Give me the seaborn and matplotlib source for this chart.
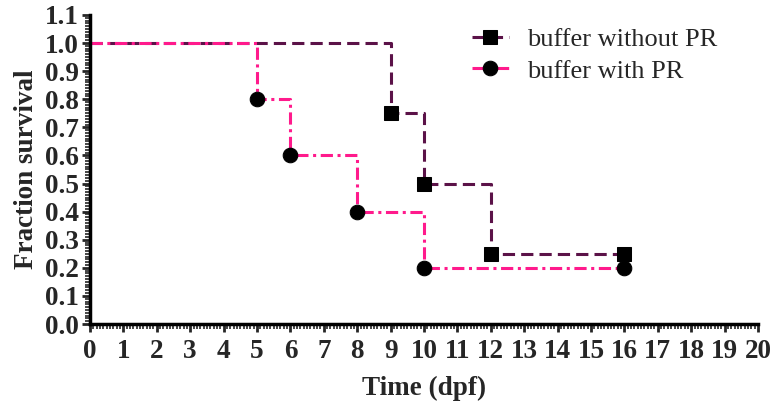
import seaborn as sns
import matplotlib.pyplot as plt
from matplotlib.ticker import MultipleLocator

# survival data (Kaplan-Meier style steps)
time_without = [0, 9, 10, 12, 16]
surv_without = [1.0, 0.75, 0.5, 0.25, 0.25]
time_with = [0, 5, 6, 8, 10, 16]
surv_with = [1.0, 0.8, 0.6, 0.4, 0.2, 0.2]
labels = ["buffer without PR", "buffer with PR"]

sns.set_style("ticks")
plt.rcParams["font.family"] = ["Liberation Serif", "DejaVu Serif"]

fig = plt.figure(figsize=(7.73, 4.03), dpi=100)
ax = fig.add_axes([0.1164, 0.196, 0.8642, 0.767])

sns.lineplot(x=time_without, y=surv_without, ax=ax, color="#5b1248",
             drawstyle="steps-post", linestyle=(0, (4, 2)), linewidth=2.2,
             marker="s", markersize=10.5, markerfacecolor="black",
             markeredgecolor="black", markevery=list(range(1, len(time_without))),
             label=labels[0])
sns.lineplot(x=time_with, y=surv_with, ax=ax, color="#ff1a8c",
             drawstyle="steps-post", linestyle=(0, (4, 1.5, 1, 1.5)), linewidth=2.2,
             marker="o", markersize=10.5, markerfacecolor="black",
             markeredgecolor="black", markevery=list(range(1, len(time_with))),
             label=labels[1])

ax.set_xlim(0, 20)
ax.set_ylim(0, 1.1)
ax.xaxis.set_major_locator(MultipleLocator(1))
ax.xaxis.set_minor_locator(MultipleLocator(0.1))
ax.yaxis.set_major_locator(MultipleLocator(0.1))
ax.yaxis.set_minor_locator(MultipleLocator(0.01))
ax.yaxis.set_major_formatter(plt.FormatStrFormatter("%.1f"))

for s in ["top", "right"]:
    ax.spines[s].set_visible(False)
for s in ["left", "bottom"]:
    ax.spines[s].set_linewidth(2.5)
    ax.spines[s].set_color("black")

ax.tick_params(which="major", length=6, width=2, labelsize=19.5)
ax.tick_params(axis="x", which="major", pad=5)
ax.tick_params(axis="y", which="major", pad=2)
ax.tick_params(which="minor", length=3.5, width=1.2)
for lab in ax.get_xticklabels() + ax.get_yticklabels():
    lab.set_fontweight("bold")

ax.set_xlabel("Time (dpf)", fontsize=19.5, fontweight="bold", labelpad=8)
ax.set_ylabel("Fraction survival", fontsize=19.5, fontweight="bold", labelpad=4)

leg = ax.legend(loc="upper right", bbox_to_anchor=(0.975, 1.035), frameon=False,
                fontsize=19, handlelength=1.4, handletextpad=0.7, labelspacing=0.3)

fig.savefig("out.png", dpi=100)
